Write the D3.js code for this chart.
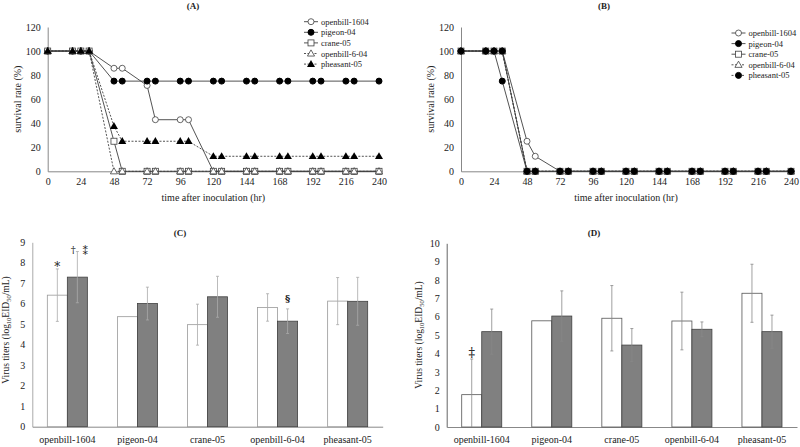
<!DOCTYPE html>
<html><head><meta charset="utf-8">
<script src="https://cdn.jsdelivr.net/npm/d3@7"></script>
<style>body{margin:0;background:#fff}svg{display:block}text{font-family:"Liberation Serif","Times New Roman",serif;fill:#222}</style>
</head><body><svg id="c" width="800" height="447"></svg>
<script>
// ---------- data ----------
const times = [0,18,24,30,48,54,72,78,96,102,120,126,144,150,168,174,192,198,216,222,240];
const seriesNames = ["openbill-1604","pigeon-04","crane-05","openbill-6-04","pheasant-05"];
const xTicks = [0,24,48,72,96,120,144,168,192,216,240];
const yTicksSurv = [0,20,40,60,80,100,120];

const A_openbill1604 = [100,100,100,100,85.7,85.7,71.4,42.9,42.9,42.9,0,0,0,0,0,0,0,0,0,0,0];
const A_pigeon04     = [100,100,100,100,75,75,75,75,75,75,75,75,75,75,75,75,75,75,75,75,75];
const A_crane05      = [100,100,100,100,25,0,0,0,0,0,0,0,0,0,0,0,0,0,0,0,0];
const A_openbill604  = [100,100,100,100,0,0,0,0,0,0,0,0,0,0,0,0,0,0,0,0,0];
const A_pheasant05   = [100,100,100,100,37.5,25,25,25,25,25,12.5,12.5,12.5,12.5,12.5,12.5,12.5,12.5,12.5,12.5,12.5];

const B_openbill1604 = [100,100,100,100,25,12.5,0,0,0,0,0,0,0,0,0,0,0,0,0,0,0];
const B_pigeon04     = [100,100,100,75,0,0,0,0,0,0,0,0,0,0,0,0,0,0,0,0,0];
const B_crane05      = [100,100,100,100,0,0,0,0,0,0,0,0,0,0,0,0,0,0,0,0,0];
const B_openbill604  = [100,100,100,100,0,0,0,0,0,0,0,0,0,0,0,0,0,0,0,0,0];
const B_pheasant05   = [100,100,100,100,0,0,0,0,0,0,0,0,0,0,0,0,0,0,0,0,0];

const birds = ["openbill-1604","pigeon-04","crane-05","openbill-6-04","pheasant-05"];
const C_white = [6.42,5.37,4.98,5.82,6.13];
const C_whiteErr = [1.28,0,1.0,0.67,1.15];
const C_gray = [7.30,6.01,6.34,5.15,6.12];
const C_grayErr = [1.25,0.8,1.0,0.6,1.17];
const C_ticks = [0,1,2,3,4,5,6,7,8,9];

const D_white = [1.76,5.78,5.92,5.77,7.28];
const D_whiteErr = [1.94,0,1.78,1.57,1.58];
const D_gray = [5.19,6.04,4.46,5.32,5.19];
const D_grayErr = [1.23,1.37,0.9,0.4,0.9];
const D_ticks = [0,1,2,3,4,5,6,7,8,9,10];

// ---------- drawing ----------
const svg = d3.select("#c");
const ink = "#404040";

function markerPath(g, type, x, y) {
  const s = 3;
  if (type === "oc") g.append("circle").attr("cx",x).attr("cy",y).attr("r",s).attr("fill","#fff").attr("stroke",ink).attr("stroke-width",0.8);
  else if (type === "fc") g.append("circle").attr("cx",x).attr("cy",y).attr("r",s).attr("fill","#000").attr("stroke","#000");
  else if (type === "os") g.append("rect").attr("x",x-s).attr("y",y-s).attr("width",2*s).attr("height",2*s).attr("fill","#fff").attr("stroke",ink).attr("stroke-width",0.8);
  else if (type === "ot") g.append("path").attr("d",d3.symbol(d3.symbolTriangle,22)()).attr("transform",`translate(${x},${y+0.5})`).attr("fill","#fff").attr("stroke",ink).attr("stroke-width",0.8);
  else if (type === "ft") g.append("path").attr("d",d3.symbol(d3.symbolTriangle,28)()).attr("transform",`translate(${x},${y+0.5})`).attr("fill","#000");
}

function survPanel(cfg) {
  const x = d3.scaleLinear().domain([0,240]).range(cfg.xr);
  const y = d3.scaleLinear().domain([0,120]).range([171.3,27]);
  const g = svg.append("g");
  const ya = g.append("g").attr("transform",`translate(${cfg.xr[0]},0)`).call(d3.axisLeft(y).tickValues(yTicksSurv).tickSize(0).tickPadding(7));
  ya.select(".domain").attr("stroke","#888");
  ya.selectAll("text").attr("font-size",10).style("font-family","Liberation Serif").attr("fill","#222");
  const xa = g.append("g").attr("transform",`translate(0,${y(0)})`).call(d3.axisBottom(x).tickValues(xTicks).tickSize(0).tickPadding(7));
  xa.select(".domain").attr("stroke","#888");
  xa.selectAll("text").attr("font-size",10).style("font-family","Liberation Serif").attr("fill","#222");
  g.append("text").attr("x",(cfg.xr[0]+cfg.xr[1])/2).attr("y",201).attr("text-anchor","middle").attr("font-size",10).text("time after inoculation (hr)");
  g.append("text").attr("transform",`translate(${cfg.xr[0]-27},${y(60)}) rotate(-90)`).attr("text-anchor","middle").attr("font-size",10).text("survival rate (%)");
  g.append("text").attr("x",cfg.titleX).attr("y",9).attr("text-anchor","middle").attr("font-size",9).attr("font-weight","bold").text(cfg.title);
  cfg.series.forEach(s => {
    const pts = times.map((t,i)=>[x(t),y(s.vals[i])]);
    g.append("path").attr("d",d3.line()(pts)).attr("fill","none").attr("stroke",ink).attr("stroke-width",0.9).attr("stroke-dasharray",s.dash?"2,1.5":null);
    pts.forEach(p=>markerPath(g,s.m,p[0],p[1]));
  });
  cfg.series.forEach((s,i) => {
    const ly = cfg.legY + i*10.6;
    g.append("line").attr("x1",cfg.legX).attr("x2",cfg.legX+14).attr("y1",ly).attr("y2",ly).attr("stroke",ink).attr("stroke-width",0.9).attr("stroke-dasharray",s.dash?"2,1.5":null);
    markerPath(g,s.m,cfg.legX+7,ly);
    g.append("text").attr("x",cfg.legX+17).attr("y",ly+3).attr("font-size",8.5).text(s.name);
  });
}

survPanel({xr:[47.7,379], title:"(A)", titleX:193, legX:304, legY:21.7, series:[
  {name:seriesNames[0], vals:A_openbill1604, m:"oc", dash:false},
  {name:seriesNames[1], vals:A_pigeon04, m:"fc", dash:false},
  {name:seriesNames[2], vals:A_crane05, m:"os", dash:false},
  {name:seriesNames[3], vals:A_openbill604, m:"ot", dash:true},
  {name:seriesNames[4], vals:A_pheasant05, m:"ft", dash:true}
]});
survPanel({xr:[461,791], title:"(B)", titleX:604, legX:731.5, legY:33, series:[
  {name:seriesNames[0], vals:B_openbill1604, m:"oc", dash:false},
  {name:seriesNames[1], vals:B_pigeon04, m:"fc", dash:false},
  {name:seriesNames[2], vals:B_crane05, m:"os", dash:false},
  {name:seriesNames[3], vals:B_openbill604, m:"ot", dash:true},
  {name:seriesNames[4], vals:B_pheasant05, m:"fc", dash:true}
]});

function barPanel(cfg) {
  const x = d3.scaleBand().domain(birds).range(cfg.xr).paddingInner(0.4286).paddingOuter(0.2143);
  const xs = d3.scaleBand().domain(["w","g"]).range([0,x.bandwidth()]);
  const y = d3.scaleLinear().domain([0,cfg.ymax]).range(cfg.yr);
  const g = svg.append("g");
  const ya = g.append("g").attr("transform",`translate(${cfg.xr[0]},0)`).call(d3.axisLeft(y).tickValues(cfg.ticks).tickSize(0).tickPadding(7));
  ya.select(".domain").attr("stroke",cfg.axisCol);
  ya.selectAll("text").attr("font-size",10).style("font-family","Liberation Serif").attr("fill","#222");
  const xa = g.append("g").attr("transform",`translate(0,${y(0)})`).call(d3.axisBottom(x).tickSize(0).tickPadding(9));
  xa.select(".domain").attr("stroke","#888");
  xa.selectAll("text").attr("font-size",10).style("font-family","Liberation Serif").attr("fill","#222");
  g.append("text").attr("x",cfg.titleX).attr("y",236).attr("text-anchor","middle").attr("font-size",9).attr("font-weight","bold").text(cfg.title);
  const lab = g.append("text").attr("transform",`translate(${cfg.labX},${cfg.labY}) rotate(-90)`).attr("text-anchor","middle").attr("font-size",9.5);
  lab.append("tspan").text("Virus titers (log");
  lab.append("tspan").attr("font-size",6.5).attr("dy",2).text("10");
  lab.append("tspan").attr("dy",-2).text("EID");
  lab.append("tspan").attr("font-size",6.5).attr("dy",2).text("50");
  lab.append("tspan").attr("dy",-2).text("/mL)");
  const groups = [["w",cfg.white,cfg.whiteErr,"#fff",cfg.wStroke],["g",cfg.gray,cfg.grayErr,"#808080","#404040"]];
  groups.forEach(([k,vals,errs,fill,stroke]) => {
    birds.forEach((b,i) => {
      const x0 = x(b)+xs(k), w = xs.bandwidth();
      g.append("rect").attr("x",x0).attr("y",y(vals[i])).attr("width",w).attr("height",y(0)-y(vals[i])).attr("fill",fill).attr("stroke",stroke).attr("stroke-width",0.8);
      if (errs[i] > 0) {
        const cx = x0 + w/2, hi = y(vals[i]+errs[i]), lo = y(Math.max(0, vals[i]-errs[i]));
        g.append("line").attr("x1",cx).attr("x2",cx).attr("y1",hi).attr("y2",lo).attr("stroke",cfg.errCol).attr("stroke-width",0.8);
        g.append("line").attr("x1",cx-1.5).attr("x2",cx+1.5).attr("y1",hi).attr("y2",hi).attr("stroke",cfg.errCol).attr("stroke-width",0.8);
        if (vals[i]-errs[i] > 0) g.append("line").attr("x1",cx-1.5).attr("x2",cx+1.5).attr("y1",lo).attr("y2",lo).attr("stroke",cfg.errCol).attr("stroke-width",0.8);
      }
    });
  });
  return {g,x,xs,y};
}

const C = barPanel({xr:[32.3,382.7], yr:[426.7,242.3], ymax:9, ticks:C_ticks, title:"(C)", titleX:180, labX:9, labY:330,
  white:C_white, whiteErr:C_whiteErr, gray:C_gray, grayErr:C_grayErr, axisCol:"#aaa", wStroke:"#999", errCol:"#aaa"});
// annotations C
const cxW0 = C.x(birds[0])+C.xs("w")+C.xs.bandwidth()/2;
const cxG0 = C.x(birds[0])+C.xs("g")+C.xs.bandwidth()/2;
const gTop0 = C.y(C_gray[0]+C_grayErr[0]);
C.g.append("text").attr("x",cxW0).attr("y",C.y(C_white[0]+C_whiteErr[0])+2).attr("text-anchor","middle").attr("font-size",12).attr("fill","#000").style("font-family","DejaVu Serif").text("*");
C.g.append("text").attr("x",cxG0-4).attr("y",gTop0+1).attr("text-anchor","middle").attr("font-size",10).attr("fill","#000").style("font-family","DejaVu Serif").text("†");
C.g.append("text").attr("x",cxG0+8).attr("y",gTop0+3).attr("text-anchor","middle").attr("font-size",11).attr("fill","#000").style("font-family","DejaVu Sans").text("\u2051");
C.g.append("text").attr("x",C.x(birds[3])+C.xs("g")+C.xs.bandwidth()/2).attr("y",C.y(C_gray[3]+C_grayErr[3])-7).attr("text-anchor","middle").attr("font-size",10).attr("font-weight","bold").attr("fill","#000").style("font-family","DejaVu Serif").text("§");

const D = barPanel({xr:[446.7,797], yr:[427,243.3], ymax:10, ticks:D_ticks, title:"(D)", titleX:594, labX:422, labY:335,
  white:D_white, whiteErr:D_whiteErr, gray:D_gray, grayErr:D_grayErr, axisCol:"#666", wStroke:"#555", errCol:"#888"});
D.g.append("text").attr("x",D.x(birds[0])+D.xs("w")+D.xs.bandwidth()/2).attr("y",D.y(D_white[0]+D_whiteErr[0])-2).attr("text-anchor","middle").attr("font-size",13).attr("fill","#000").style("font-family","DejaVu Serif").text("‡");
</script></body></html>
